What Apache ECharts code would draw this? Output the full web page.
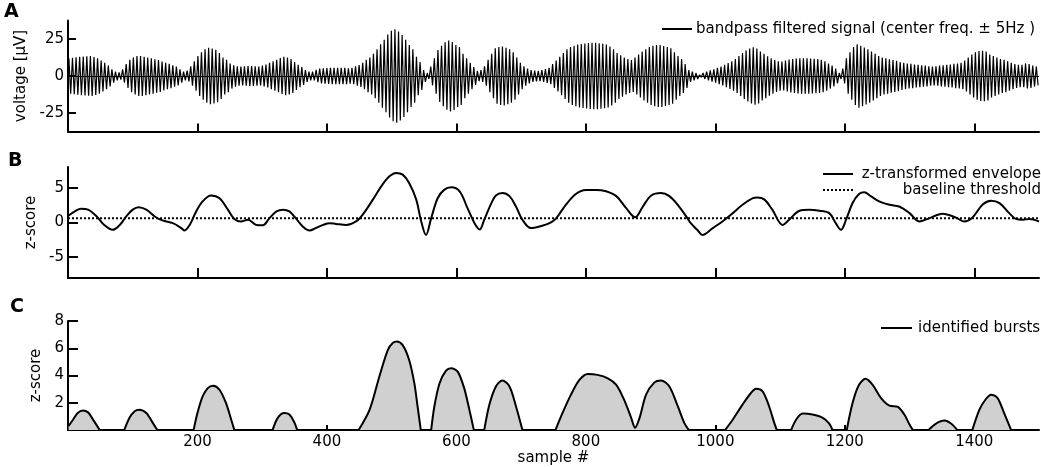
<!DOCTYPE html>
<html>
<head>
<meta charset="utf-8">
<script src="https://cdn.jsdelivr.net/npm/echarts@6/dist/echarts.min.js"></script>
<style>
  html, body { margin: 0; padding: 0; background: #fff; }
  #chart { width: 1041px; height: 467px; }
</style>
</head>
<body>
<div id="chart"></div>
<script>
var nSamples = 1500;
var xTicks = [200, 400, 600, 800, 1000, 1200, 1400];
var yTicksA = [-25, 0, 25];
var yTicksB = [-5, 0, 5];
var yTicksC = [2, 4, 6, 8];

// A: amplitude of every oscillation cycle of the filtered signal (uV)
var ampA = [
  12, 12.3, 12.7, 13, 13.2, 13.4, 13.5, 12.8, 12, 10.5,
  9, 7, 4.5, 3, 2.5, 4.5, 8, 11, 12.5, 13.5,
  13.5, 13, 12.5, 12, 11.3, 10.8, 9.8, 9, 8.2, 7.2,
  6.3, 4.5, 3, 3.6, 6.5, 10, 13.5, 16, 18, 19,
  18.5, 17.8, 15.5, 12.5, 11, 8.5, 7.2, 6.5, 6.3, 6.6,
  6.8, 6.7, 6.5, 6.3, 7, 7.8, 9, 10, 11, 12.2,
  13, 12.5, 11.5, 9.5, 7.5, 6, 4, 3, 3, 4.2,
  5, 5.2, 5.4, 5.6, 5.6, 5.6, 5.6, 5.6, 5.2, 5.5,
  6.5, 7.4, 9, 11, 12.5, 15, 18, 21.5, 24.5, 28,
  30.5, 31.5, 30, 27.7, 24.5, 21, 18, 13, 9.5, 4,
  2, 6.3, 12, 17.5, 20.5, 22.8, 24, 23, 21, 19.5,
  15, 12, 9, 6, 3.5, 4, 6.5, 11, 15, 18.7,
  19.5, 20, 19, 18, 16, 12.5, 9, 6.5, 5, 4,
  3.6, 3.4, 4, 4.6, 5.5, 8, 10.5, 13, 15.5, 18,
  19.5, 20.5, 21.3, 21.6, 22, 22.3, 22.5, 22.5, 22.2, 21.8,
  21.2, 20, 18, 15.5, 14, 12.5, 11.5, 10.8, 12.5, 14.5,
  16.5, 18, 19.5, 20.5, 21, 21, 20.3, 19.5, 18.7, 16,
  13.5, 11.5, 8, 4, 3, 2, 0.8, 2, 3, 3.8,
  4.5, 5.5, 6.3, 7.5, 8.8, 10, 11.5, 13.5, 15.5, 17.3,
  18.5, 19.4, 18.5, 16.5, 15, 13.3, 12, 10.8, 10, 9.8,
  10.5, 11.2, 11.5, 11.8, 12, 12, 12, 11.8, 11.6, 11.4,
  11, 10, 8.5, 7, 5, 2, 5, 12, 16, 19.5,
  21.4, 20.5, 19.3, 18, 16.5, 15, 13.5, 12.5, 12, 11.3,
  10.8, 10.3, 9.5, 9, 8.5, 8.2, 7.8, 7.5, 7.3, 7,
  6.6, 6.3, 6.5, 7, 7.3, 7.5, 7.8, 8.2, 8.5, 9,
  10.5, 12.5, 14.5, 16, 16.8, 17, 16.5, 14.5, 13.5, 12.5,
  11.5, 11, 10, 9, 8, 7.5, 7.5, 8.5, 8, 7,
  6.3
];

// B: z-transformed envelope, [sample, z]
var envB = [
  [1, 1.0], [13, 1.75], [20, 2.0], [31, 1.85], [44, 0.9], [56, -0.35], [69, -1.06], [80, -0.35],
  [90, 0.87], [100, 1.85], [109, 2.2], [121, 1.85], [134, 0.87], [146, 0.3], [162, -0.1], [175, -0.8],
  [180, -1.15], [188, -0.35], [198, 1.6], [208, 3.05], [221, 3.9], [234, 3.5], [247, 1.85], [257, 0.5],
  [267, 0.15], [278, 0.4], [291, -0.35], [301, -0.4], [311, 0.6], [322, 1.6], [332, 1.85], [342, 1.6],
  [352, 0.6], [363, -0.6], [373, -1.15], [383, -0.8], [394, -0.35], [404, -0.1], [414, -0.2], [430, -0.35],
  [445, 0.15], [455, 1.1], [471, 3.3], [486, 5.5], [497, 6.7], [507, 7.15], [517, 6.9], [527, 5.7],
  [538, 3.3], [545, 0.4], [553, -1.8], [561, 0.6], [571, 3.5], [581, 4.7], [592, 5.07], [605, 4.5],
  [617, 2.1], [628, -0.1], [636, -1.0], [643, 0.4], [654, 2.8], [661, 3.9], [671, 4.25], [682, 3.8],
  [692, 2.3], [702, 0.4], [715, -0.8], [731, -0.5], [744, -0.1], [754, 0.6], [769, 2.55], [785, 4.15],
  [800, 4.7], [816, 4.7], [831, 4.5], [847, 3.8], [862, 2.1], [876, 0.75], [888, 2.3], [901, 3.9],
  [916, 4.25], [929, 3.8], [944, 2.3], [957, 0.6], [962, -0.1], [973, -1.15], [980, -1.8], [996, -0.8],
  [1011, 0.15], [1027, 1.35], [1042, 2.55], [1058, 3.5], [1065, 3.6], [1076, 3.3], [1088, 1.85], [1104, -0.35],
  [1114, 0.4], [1130, 1.7], [1145, 1.85], [1161, 1.7], [1176, 1.35], [1186, -0.1], [1194, -1.06], [1202, 0.4],
  [1212, 2.8], [1222, 4.1], [1230, 4.35], [1240, 3.8], [1253, 3.05], [1269, 2.55], [1284, 2.3], [1300, 1.35],
  [1315, 0.15], [1330, 0.6], [1351, 1.25], [1372, 0.7], [1384, 0.15], [1397, 0.7], [1413, 2.6], [1426, 3.15],
  [1439, 2.8], [1454, 1.35], [1464, 0.53], [1475, 0.4], [1485, 0.5], [1500, 0.15]
];
var threshold = 0.6;

// C: identified bursts, [sample, z-score], one list per burst
var burstsC = [
  [[1, 0.3], [8, 0.78], [15, 1.26], [23, 1.43], [31, 1.3], [38, 0.82], [49, 0]],
  [[87, 0], [95, 0.9], [103, 1.38], [110, 1.5], [121, 1.26], [131, 0.53], [138, 0]],
  [[194, 0], [200, 1.26], [208, 2.47], [216, 3.08], [224, 3.25], [234, 2.96], [244, 1.99], [252, 0.78], [257, 0]],
  [[316, 0], [324, 0.9], [334, 1.26], [342, 1.14], [350, 0.53], [354, 0]],
  [[449, 0], [466, 1.5], [481, 3.93], [494, 5.87], [502, 6.4], [508, 6.5], [517, 6.23], [527, 5.14], [535, 3.44], [540, 1.75], [545, 0]],
  [[561, 0], [566, 1.75], [574, 3.44], [584, 4.36], [592, 4.53], [602, 4.29], [612, 3.08], [620, 1.5], [627, 0]],
  [[643, 0], [651, 1.87], [661, 3.2], [671, 3.64], [682, 3.2], [692, 1.75], [702, 0]],
  [[753, 0], [764, 1.26], [777, 2.6], [790, 3.68], [803, 4.12], [818, 4.05], [834, 3.8], [847, 3.32], [859, 2.23],
   [870, 0.9], [876, 0.17], [883, 0.9], [893, 2.6], [906, 3.5], [916, 3.64], [929, 3.2], [942, 1.75], [952, 0.53], [959, 0]],
  [[1015, 0], [1027, 0.78], [1042, 1.87], [1055, 2.72], [1063, 3.03], [1073, 2.84], [1083, 1.75], [1091, 0.53], [1095, 0]],
  [[1117, 0], [1125, 0.78], [1135, 1.21], [1150, 1.14], [1166, 0.9], [1176, 0.48], [1181, 0]],
  [[1203, 0], [1212, 1.99], [1222, 3.32], [1232, 3.76], [1243, 3.32], [1256, 2.35], [1269, 1.79], [1282, 1.7], [1292, 1.14], [1300, 0.41], [1305, 0]],
  [[1329, 0], [1341, 0.48], [1354, 0.7], [1364, 0.48], [1374, 0]],
  [[1397, 0], [1408, 1.5], [1418, 2.28], [1426, 2.6], [1436, 2.35], [1446, 1.26], [1457, 0]]
];

var font = 'DejaVu Sans';
var txt = { color: '#000', fontSize: 15, fontFamily: font };

// oscillation: one positive and one negative peak per cycle
var period = nSamples / ampA.length;
var signalA = [];
ampA.forEach(function (a, k) {
  signalA.push([k * period + period / 4, a]);
  signalA.push([k * period + 3 * period / 4, -a]);
});

function makeX(gi, tickLen, labels) {
  return {
    type: 'value', gridIndex: gi, min: 0, max: nSamples,
    name: labels ? 'sample #' : '', nameLocation: 'middle', nameGap: 20,
    nameTextStyle: txt,
    axisLine: { show: true, onZero: false, lineStyle: { color: '#000', width: 2 } },
    axisTick: { show: true, inside: true, length: tickLen, customValues: xTicks, lineStyle: { color: '#000', width: 2 } },
    axisLabel: Object.assign({ show: labels, customValues: xTicks, margin: 5,
      formatter: function (v) { return String(v); } }, txt),
    splitLine: { show: false }
  };
}

function makeY(gi, min, max, ticks, tickLen, name) {
  return {
    type: 'value', gridIndex: gi, min: min, max: max,
    name: name, nameLocation: 'middle', nameGap: 23, nameRotate: 90,
    nameTextStyle: txt,
    axisLine: { show: true, onZero: false, lineStyle: { color: '#000', width: 2 } },
    axisTick: { show: true, inside: true, length: tickLen, customValues: ticks, lineStyle: { color: '#000', width: 2 } },
    axisLabel: Object.assign({ customValues: ticks, margin: 4 }, txt),
    splitLine: { show: false }
  };
}

var series = [
  {
    type: 'line', xAxisIndex: 0, yAxisIndex: 0, data: signalA, showSymbol: false,
    lineStyle: { color: '#000', width: 1.2 },
    markLine: { silent: true, symbol: 'none', label: { show: false },
      lineStyle: { color: '#000', width: 1, type: 'solid' }, data: [{ yAxis: 0 }] }
  },
  {
    type: 'line', xAxisIndex: 1, yAxisIndex: 1, data: [[0, threshold], [nSamples, threshold]],
    showSymbol: false, lineStyle: { color: '#000', width: 2, type: [2, 2] }
  },
  {
    type: 'line', xAxisIndex: 1, yAxisIndex: 1, data: envB, showSymbol: false, smooth: 0.35,
    lineStyle: { color: '#000', width: 2 }
  }
];
burstsC.forEach(function (b) {
  series.push({
    type: 'line', xAxisIndex: 2, yAxisIndex: 2, data: b, showSymbol: false,
    smooth: 0.3,
    lineStyle: { color: '#000', width: 2 },
    areaStyle: { color: '#d0d0d0', opacity: 1, origin: 'start' }
  });
});

function legendLine(x1, x2, y, dash) {
  return { type: 'line', shape: { x1: x1, y1: y, x2: x2, y2: y },
    style: { stroke: '#000', lineWidth: 2, lineDash: dash || null } };
}
function label(x, y, text, align, size, weight) {
  return { type: 'text', x: x, y: y,
    style: { text: text, fill: '#000', font: (weight || 'normal') + ' ' + (size || 15) + 'px "' + font + '"',
      textAlign: align || 'left', textVerticalAlign: 'middle' } };
}

var chart = echarts.init(document.getElementById('chart'));
chart.setOption({
  animation: false,
  backgroundColor: '#fff',
  grid: [
    { left: 68, width: 971, top: 20.5, height: 111 },
    { left: 68, width: 971, top: 167, height: 111 },
    { left: 68, width: 971, top: 321, height: 110 }
  ],
  xAxis: [makeX(0, 8, false), makeX(1, 10, false), makeX(2, 5, true)],
  yAxis: [
    makeY(0, -37.5, 37.5, yTicksA, 8, 'voltage [\u03bcV]'),
    makeY(1, -8, 8, yTicksB, 10, 'z-score'),
    makeY(2, 0, 8, yTicksC, 10, 'z-score')
  ],
  series: series,
  graphic: [
    label(4, 12.5, 'A', 'left', 19, 'bold'),
    label(8, 161, 'B', 'left', 19, 'bold'),
    label(10, 307, 'C', 'left', 19, 'bold'),
    legendLine(662, 692, 29),
    label(696, 29, 'bandpass filtered signal (center freq. \u00b1 5Hz )'),
    legendLine(823, 853, 174),
    label(1041, 174, 'z-transformed envelope', 'right'),
    legendLine(823, 853, 190, [2, 2]),
    label(1041, 190, 'baseline threshold', 'right'),
    legendLine(881, 912, 328),
    label(918, 328, 'identified bursts')
  ]
});
</script>
</body>
</html>
